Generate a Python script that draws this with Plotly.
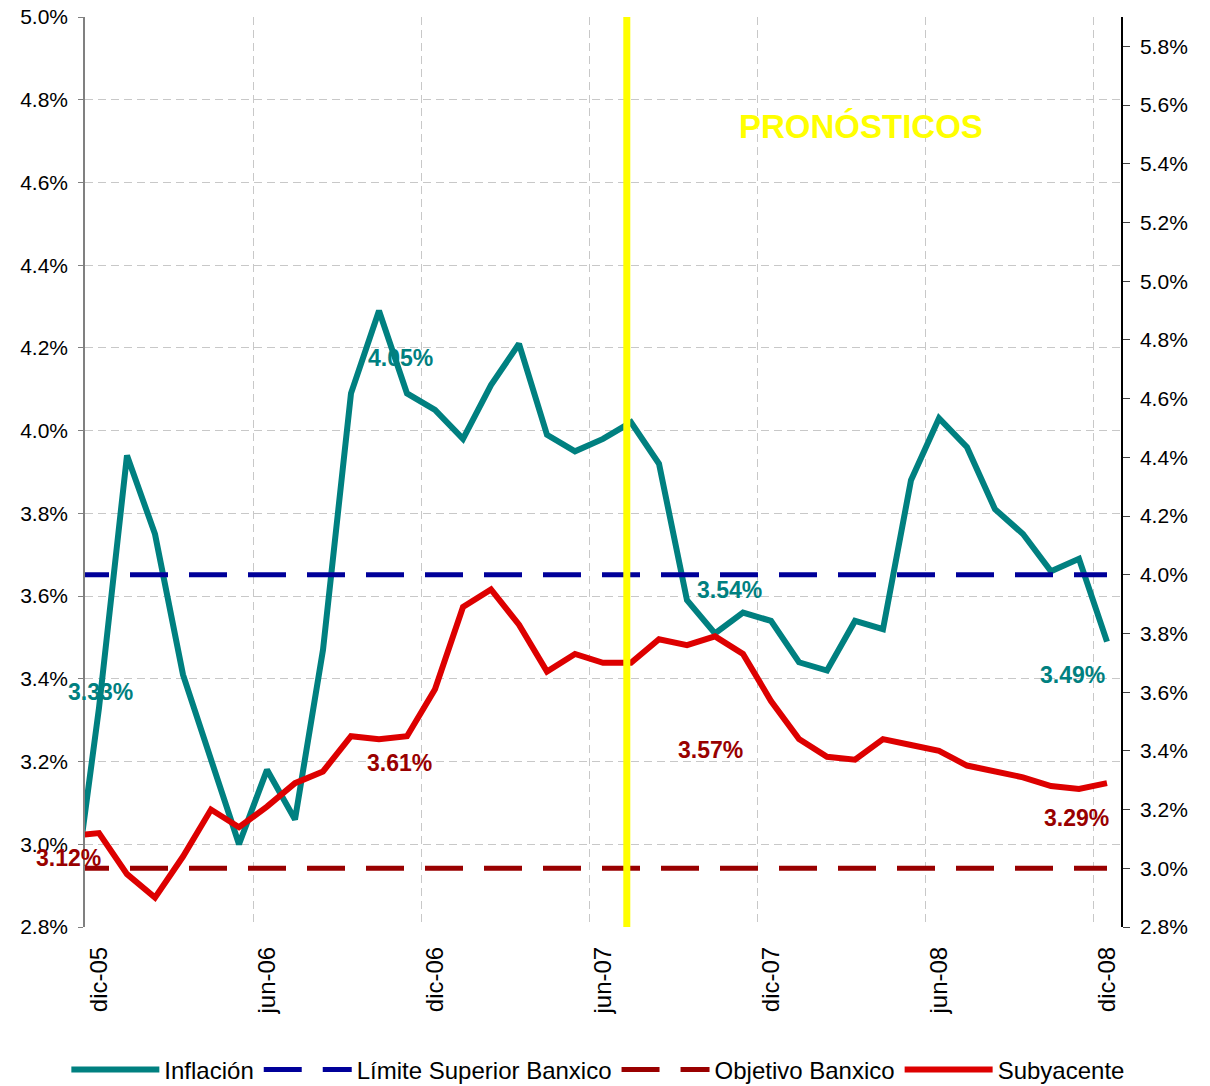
import plotly.graph_objects as go

# meses (nov-05 solo sirve para que la línea entre desde el borde izquierdo)
meses = ["nov-05", "dic-05",
         "ene-06", "feb-06", "mar-06", "abr-06", "may-06", "jun-06",
         "jul-06", "ago-06", "sep-06", "oct-06", "nov-06", "dic-06",
         "ene-07", "feb-07", "mar-07", "abr-07", "may-07", "jun-07",
         "jul-07", "ago-07", "sep-07", "oct-07", "nov-07", "dic-07",
         "ene-08", "feb-08", "mar-08", "abr-08", "may-08", "jun-08",
         "jul-08", "ago-08", "sep-08", "oct-08", "nov-08", "dic-08"]

inflacion = [2.82, 3.33,
             3.94, 3.75, 3.41, 3.20, 3.00, 3.18,
             3.06, 3.47, 4.09, 4.29, 4.09, 4.05,
             3.98, 4.11, 4.21, 3.99, 3.95, 3.98,
             4.02, 3.92, 3.59, 3.51, 3.56, 3.54,
             3.44, 3.42, 3.54, 3.52, 3.88, 4.03,
             3.96, 3.81, 3.75, 3.66, 3.69, 3.49]

subyacente = [3.11, 3.12,
              2.98, 2.90, 3.04, 3.20, 3.14, 3.21,
              3.29, 3.33, 3.45, 3.44, 3.45, 3.61,
              3.89, 3.95, 3.83, 3.67, 3.73, 3.70,
              3.70, 3.78, 3.76, 3.79, 3.73, 3.57,
              3.44, 3.38, 3.37, 3.44, 3.42, 3.40,
              3.35, 3.33, 3.31, 3.28, 3.27, 3.29]

limite_superior = 4.0
objetivo = 3.0
inicio_pronostico = "jul-07"

meses_eje = ["dic-05", "jun-06", "dic-06", "jun-07", "dic-07", "jun-08", "dic-08"]
ticks_izq = [2.8, 3.0, 3.2, 3.4, 3.6, 3.8, 4.0, 4.2, 4.4, 4.6, 4.8, 5.0]
ticks_der = [2.8, 3.0, 3.2, 3.4, 3.6, 3.8, 4.0, 4.2, 4.4, 4.6, 4.8, 5.0, 5.2, 5.4, 5.6, 5.8]

# etiquetas: mes, desplazamiento en px (x, y)
etiq_inflacion = [("dic-05", 1, 16), ("dic-06", -35, 52), ("dic-07", -42, 31), ("dic-08", -35, -33)]
etiq_subyacente = [("dic-05", -31, -25), ("dic-06", -36, -74), ("dic-07", -61, -49), ("dic-08", -31, -35)]

FUENTE = "Liberation Sans, Arial, sans-serif"
TEAL = "#008080"
NAVY = "#000099"
GUINDA = "#990000"
ROJO = "#DD0000"


def pct(vals):
    return ["%.1f%%" % v for v in vals]


fig = go.Figure()

fig.add_trace(go.Scatter(x=meses, y=inflacion, mode="lines", name="Inflación",
                         line=dict(color=TEAL, width=6), yaxis="y"))
fig.add_trace(go.Scatter(x=meses, y=[limite_superior] * len(meses), mode="lines",
                         name="Límite Superior Banxico",
                         line=dict(color=NAVY, width=5, dash="38px,21px"), yaxis="y2"))
fig.add_trace(go.Scatter(x=meses, y=[objetivo] * len(meses), mode="lines",
                         name="Objetivo Banxico",
                         line=dict(color=GUINDA, width=5, dash="38px,21px"), yaxis="y2"))
fig.add_trace(go.Scatter(x=meses, y=subyacente, mode="lines", name="Subyacente",
                         line=dict(color=ROJO, width=6), yaxis="y2"))

# línea vertical de inicio de pronósticos
xp = meses.index(inicio_pronostico) - 0.15
fig.add_shape(type="line", xref="x", yref="paper", x0=xp, x1=xp, y0=0, y1=1,
              line=dict(color="#FFFF00", width=7), layer="above")

fig.add_annotation(x=28.2, y=4.736, xref="x", yref="y", text="<b>PRONÓSTICOS</b>",
                   showarrow=False, font=dict(family=FUENTE, size=33, color="#FFFF00"))

for mes, dx, dy in etiq_inflacion:
    v = inflacion[meses.index(mes)]
    fig.add_annotation(x=mes, y=v, xref="x", yref="y", text="<b>%.2f%%</b>" % v,
                       showarrow=False, xshift=dx, yshift=dy,
                       font=dict(family=FUENTE, size=23, color=TEAL))
for mes, dx, dy in etiq_subyacente:
    v = subyacente[meses.index(mes)]
    fig.add_annotation(x=mes, y=v, xref="x", yref="y2", text="<b>%.2f%%</b>" % v,
                       showarrow=False, xshift=dx, yshift=dy,
                       font=dict(family=FUENTE, size=23, color=GUINDA))

# la página deja 8 px de margen: la figura se reduce para caber en la ventana
fig.update_layout(
    width=1202, height=1078,
    margin=dict(l=77, r=89, t=9, b=159, autoexpand=False),
    paper_bgcolor="white", plot_bgcolor="white",
    font=dict(family=FUENTE, color="black", size=21),
    xaxis=dict(type="category", categoryorder="array", categoryarray=meses,
               range=[0.5, len(meses) - 0.5], automargin=False,
               tickmode="array", tickvals=meses_eje, tickson="boundaries",
               tickangle=-90, ticks="", ticklabelstandoff=14,
               tickfont=dict(size=24),
               showgrid=True, gridcolor="#C8C8C8", griddash="8px,5px", gridwidth=1,
               showline=False, zeroline=False),
    yaxis=dict(range=[2.8, 5.0], tickvals=ticks_izq, ticktext=pct(ticks_izq),
               automargin=False, ticklabeloverflow="allow", ticklabelstandoff=6,
               showgrid=True, gridcolor="#C8C8C8", griddash="8px,5px", gridwidth=1,
               showline=True, linecolor="#808080", linewidth=1.5,
               ticks="outside", ticklen=5, tickcolor="#808080", zeroline=False),
    yaxis2=dict(range=[2.8, 5.9], tickvals=ticks_der, ticktext=pct(ticks_der),
                automargin=False, ticklabeloverflow="allow", ticklabelstandoff=6,
                overlaying="y", side="right", showgrid=False,
                showline=True, linecolor="black", linewidth=1.5,
                ticks="outside", ticklen=7, tickcolor="#404040", zeroline=False),
    legend=dict(orientation="h", x=-0.018, xanchor="left",
                y=-0.157, yanchor="middle",
                font=dict(size=24), itemwidth=88, bgcolor="rgba(0,0,0,0)"),
)

fig.write_html("out.html")
